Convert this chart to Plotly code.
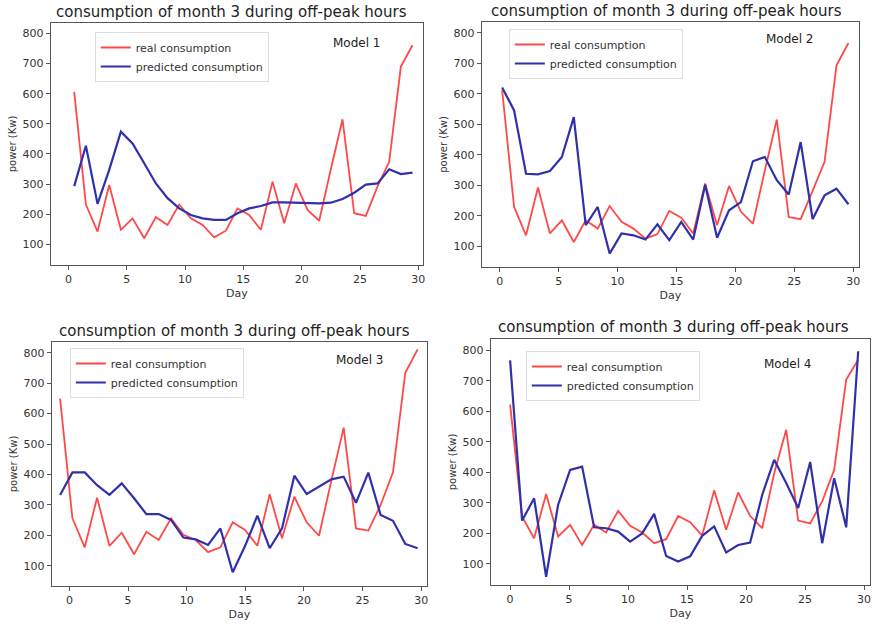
import plotly.graph_objects as go

# Day positions for each model panel
days_m1 = [0.5 + i for i in range(30)]
days_m2 = [0.2 + i * (29.4 / 29) for i in range(30)]
days_m3 = [-0.8 + i * (30.5 / 29) for i in range(30)]
days_m4 = [0.0 + i * (29.5 / 29) for i in range(30)]

real_m1 = [606, 232, 142, 297, 148, 186, 120, 190, 164, 232, 186, 164, 123, 145, 219,
           197, 148, 308, 170, 302, 214, 178, 350, 515, 203, 194, 292, 374, 690, 761]
pred_m1 = [293, 427, 234, 347, 474, 435, 369, 302, 253, 219, 197, 186, 181, 181, 203,
           219, 227, 239, 239, 238, 236, 236, 238, 250, 271, 298, 302, 349, 333, 338]

real_m2 = [612, 229, 136, 293, 142, 185, 114, 185, 158, 232, 180, 158, 125, 140, 216,
           194, 142, 306, 169, 298, 213, 174, 349, 516, 196, 189, 282, 377, 694, 767]
pred_m2 = [621, 546, 338, 336, 347, 393, 524, 169, 229, 76, 142, 136, 122, 172, 120,
           180, 122, 302, 128, 218, 245, 379, 393, 317, 270, 442, 189, 267, 289, 238]

real_m3 = [649, 256, 161, 324, 166, 209, 138, 212, 185, 256, 202, 185, 145, 161, 243,
           218, 166, 335, 191, 327, 243, 199, 380, 554, 223, 216, 300, 407, 734, 811]
pred_m3 = [333, 407, 407, 365, 333, 371, 322, 270, 270, 251, 193, 187, 169, 223, 79,
           165, 265, 158, 223, 396, 336, 360, 384, 393, 307, 406, 267, 248, 172, 158]

real_m4 = [622, 255, 184, 329, 190, 228, 162, 228, 203, 274, 225, 203, 168, 181, 257,
           237, 193, 341, 212, 334, 257, 217, 397, 540, 242, 233, 305, 408, 704, 769]
pred_m4 = [767, 242, 315, 58, 294, 408, 419, 220, 217, 206, 173, 200, 264, 126, 108,
           125, 192, 223, 138, 162, 170, 326, 441, 365, 283, 434, 168, 381, 220, 797]

panel_days = [days_m1, days_m2, days_m3, days_m4]
panel_real = [real_m1, real_m2, real_m3, real_m4]
panel_pred = [pred_m1, pred_m2, pred_m3, pred_m4]
model_names = ["Model 1", "Model 2", "Model 3", "Model 4"]
title_text = "consumption of month 3 during off-peak hours"
x_ticks = [0, 5, 10, 15, 20, 25, 30]
y_ticks = [100, 200, 300, 400, 500, 600, 700, 800]

W, H = 875, 624
RED = "rgba(255,20,20,0.78)"
BLUE = "rgb(48,48,170)"
FONT = "DejaVu Sans"

# Panel boxes in pixels: (left, right, top, bottom)
boxes = [(51, 424, 23, 265), (483, 861, 22, 267), (52, 428, 342, 586), (492, 872, 339, 585)]
x_ranges = [[-1.5, 30.4], [-1.52, 30.5], [-1.5, 30.5], [-1.63, 30.5]]
y_ranges = [[31, 835], [32, 836], [34, 835], [31, 837]]
legend_pos = [(95, 32), (510, 29), (70, 348), (527, 351)]
model_pos = [(357, 43), (791, 39), (360, 360), (789, 364)]
title_pos = [(232, 12), (668, 11), (235, 331), (675, 327)]

fig = go.Figure()
layout = dict(
    width=W, height=H,
    margin=dict(l=0, r=0, t=0, b=0),
    paper_bgcolor="white", plot_bgcolor="white",
    font=dict(family=FONT, color="#333333"),
    annotations=[],
)

for k in range(4):
    n = k + 1
    xa = "x" if n == 1 else f"x{n}"
    ya = "y" if n == 1 else f"y{n}"
    lg = "legend" if n == 1 else f"legend{n}"
    fig.add_trace(go.Scatter(x=panel_days[k], y=panel_real[k], mode="lines",
                             name="real consumption", line=dict(color=RED, width=1.8),
                             xaxis=xa, yaxis=ya, legend=lg))
    fig.add_trace(go.Scatter(x=panel_days[k], y=panel_pred[k], mode="lines",
                             name="predicted consumption", line=dict(color=BLUE, width=2.2),
                             xaxis=xa, yaxis=ya, legend=lg))
    l, r, t, b = boxes[k]
    axis_common = dict(showgrid=False, zeroline=False, showline=True, mirror=True,
                       linecolor="#555555", linewidth=1.2, ticks="outside", ticklen=4,
                       tickcolor="#555555", tickfont=dict(size=11, color="#333333"))
    layout["xaxis" if n == 1 else f"xaxis{n}"] = dict(
        domain=[l / W, r / W], range=x_ranges[k], tickvals=x_ticks,
        anchor=ya, title=dict(text="Day", font=dict(size=11, color="#333333"), standoff=4),
        **axis_common)
    layout["yaxis" if n == 1 else f"yaxis{n}"] = dict(
        domain=[1 - b / H, 1 - t / H], range=y_ranges[k], tickvals=y_ticks,
        anchor=xa, title=dict(text="power (Kw)", font=dict(size=10, color="#333333"), standoff=4),
        **axis_common)
    lx, ly = legend_pos[k]
    layout[lg] = dict(x=lx / W, y=1 - ly / H, xanchor="left", yanchor="top",
                      bgcolor="rgba(255,255,255,0.9)", bordercolor="#dddddd", borderwidth=1,
                      font=dict(size=11, color="#333333"), tracegroupgap=0,
                      itemwidth=30)
    mx, my = model_pos[k]
    layout["annotations"].append(dict(text=model_names[k], x=mx / W, y=1 - my / H,
                                      xref="paper", yref="paper", showarrow=False,
                                      xanchor="center", yanchor="middle",
                                      font=dict(size=12, color="#222222")))
    tx, ty = title_pos[k]
    layout["annotations"].append(dict(text=title_text, x=tx / W, y=1 - ty / H,
                                      xref="paper", yref="paper", showarrow=False,
                                      xanchor="center", yanchor="middle",
                                      font=dict(size=15, color="#222222")))

fig.update_layout(**layout)
fig.write_html("out.html")
